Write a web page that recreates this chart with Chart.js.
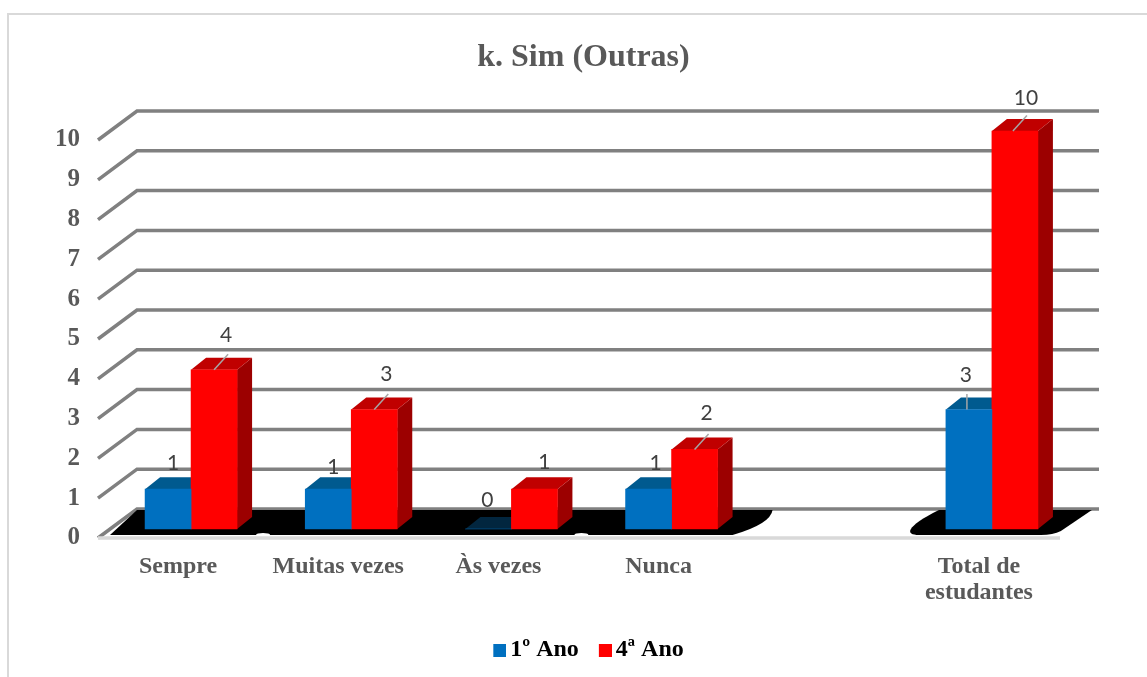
<!DOCTYPE html>
<html lang="pt">
<head>
<meta charset="utf-8">
<title>k. Sim (Outras)</title>
<script src="https://cdn.jsdelivr.net/npm/chart.js@4/dist/chart.umd.min.js"></script>
<style>
html,body{margin:0;padding:0;background:#fff;overflow:hidden}
#wrap{position:relative;width:1147px;height:677px}
canvas{display:block}
</style>
</head>
<body>
<div id="wrap"><canvas id="c" width="1147" height="677"></canvas></div>
<script>
const categories = ["Sempre", "Muitas vezes", "Às vezes", "Nunca", "", ["Total de", "estudantes"]];
const firstYear = [1, 1, 0, 1, null, 3];
const fourthYear = [4, 3, 1, 2, null, 10];
const seriesNames = ["1º Ano", "4ª Ano"];
const yMax = 10;

const SERIF = '"Liberation Serif", "Times New Roman", serif';
const GREY = '#595959';
const BAR = {dx: 13, dy: -9};       // bars stand inside the floor
const DEPTH = {dx: 15, dy: -12};    // bar depth
const WALL = {dx: 39, dy: -29};     // box depth
const faces = [
  {front: '#0070C0', top: '#005A8F', side: '#00466F', flat: '#02263F'},
  {front: '#FF0000', top: '#C00000', side: '#9C0000', flat: '#C00000'}
];
// label and leader placement relative to the bar's top front centre: [labelDx, labelDy, leaderStartDx or null]
const labelPlace = [
  [[5,-26,null],[5,-22,null],[-1,-29,null],[7,-26,null],null,[-3,-34,-2]],
  [[12,-35,0],[12,-35,0],[10,-27,null],[12,-36,0],null,[11,-33,-2]]
];

function swatch(color) {
  // legend key: a 13px square with the narrow gap before its text
  const c = document.createElement('canvas');
  c.width = 17; c.height = 13;
  const g = c.getContext('2d');
  g.fillStyle = color;
  g.fillRect(4, 0, 13, 13);
  return c;
}

const box3d = {
  id: 'box3d',
  afterLayout(chart) {
    // the title and legend sit over the whole picture, not over the plot
    chart.titleBlock.left += 54; chart.titleBlock.right += 54;
    chart.legend.left += 61; chart.legend.right += 61;
    chart.legend.top -= 8; chart.legend.bottom -= 8;
  },
  beforeDatasetsDraw(chart) {
    const {ctx, scales: {x, y}} = chart;
    const bx = y.getPixelForValue(0);
    const left = x.left, right = x.right;
    ctx.save();
    // frame
    ctx.fillStyle = '#D9D9D9';
    ctx.fillRect(7, 13, 2, 664);
    ctx.fillRect(7, 13, 1140, 2);
    // walls
    ctx.strokeStyle = '#808080';
    ctx.lineWidth = 3.5;
    ctx.lineCap = 'butt';
    y.ticks.forEach(t => {
      const py = y.getPixelForValue(t.value);
      ctx.beginPath();
      ctx.moveTo(left, py);
      ctx.lineTo(left + WALL.dx, py + WALL.dy);
      ctx.lineTo(right + WALL.dx + 1, py + WALL.dy);
      ctx.stroke();
    });
    // black floor, in two patches
    const fy0 = bx + WALL.dy + 1, fy1 = bx - 3;
    const c3 = x.getPixelForValue(3), c5 = x.getPixelForValue(5);
    ctx.fillStyle = '#000';
    ctx.beginPath();
    ctx.moveTo(left + 12, fy1);
    ctx.lineTo(left + WALL.dx, fy0);
    ctx.lineTo(c3 + 114, fy0);
    ctx.quadraticCurveTo(c3 + 112, fy0 + 14, c3 + 74, fy1);
    ctx.closePath();
    ctx.fill();
    ctx.beginPath();
    ctx.moveTo(c5 - 40, fy0);
    ctx.lineTo(c5 + 113, fy0);
    ctx.lineTo(c5 + 82, fy1 - 4);
    ctx.quadraticCurveTo(c5 + 74, fy1, c5 + 62, fy1);
    ctx.lineTo(c5 - 60, fy1);
    ctx.bezierCurveTo(c5 - 74, fy1, c5 - 74, fy1 - 8, c5 - 40, fy0);
    ctx.closePath();
    ctx.fill();
    // front floor edge
    ctx.strokeStyle = '#D9D9D9';
    ctx.beginPath();
    ctx.moveTo(left, bx);
    ctx.lineTo(right + 1, bx);
    ctx.stroke();
    // small gaps in the black floor
    ctx.fillStyle = '#fff';
    [x.getPixelForValue(0) + 85, x.getPixelForValue(2) + 83].forEach(gx => {
      ctx.beginPath();
      ctx.ellipse(gx, fy1 - 0.5, 7, 1.5, 0, 0, Math.PI * 2);
      ctx.fill();
    });
    // bar sides and tops
    chart.data.datasets.forEach((ds, di) => {
      chart.getDatasetMeta(di).data.forEach((el, i) => {
        if (ds.data[i] === null) return;
        const l = el.x - el.width / 2 + BAR.dx, r = el.x + el.width / 2 + BAR.dx;
        const t = el.y + BAR.dy, b = el.base + BAR.dy;
        const f = faces[di];
        if (ds.data[i] > 0) {
          ctx.fillStyle = f.side;
          ctx.beginPath();
          ctx.moveTo(r, t); ctx.lineTo(r + DEPTH.dx, t + DEPTH.dy);
          ctx.lineTo(r + DEPTH.dx, b + DEPTH.dy); ctx.lineTo(r, b);
          ctx.closePath(); ctx.fill();
        }
        ctx.fillStyle = ds.data[i] > 0 ? f.top : f.flat;
        ctx.beginPath();
        ctx.moveTo(l, t); ctx.lineTo(l + DEPTH.dx, t + DEPTH.dy);
        ctx.lineTo(r + DEPTH.dx, t + DEPTH.dy); ctx.lineTo(r, t);
        ctx.closePath(); ctx.fill();
      });
    });
    ctx.restore();
    ctx.save();
    ctx.translate(BAR.dx, BAR.dy);
  },
  afterDatasetsDraw(chart) {
    const {ctx} = chart;
    ctx.restore();
    ctx.save();
    ctx.font = '21px Lato, sans-serif';
    ctx.fillStyle = '#404040';
    ctx.textAlign = 'center';
    ctx.textBaseline = 'middle';
    chart.data.datasets.forEach((ds, di) => {
      chart.getDatasetMeta(di).data.forEach((el, i) => {
        const place = labelPlace[di][i];
        if (ds.data[i] === null || !place) return;
        const cx = el.x + BAR.dx, top = el.y + BAR.dy;
        if (place[2] !== null) {
          ctx.strokeStyle = '#A6A6A6';
          ctx.lineWidth = 1.5;
          ctx.beginPath();
          ctx.moveTo(cx + place[2], top);
          ctx.lineTo(cx + place[2] + (di === 0 ? 0 : 14), top - 15.5);
          ctx.stroke();
        }
        ctx.fillText(String(ds.data[i]), cx + place[0], top + place[1]);
      });
    });
    ctx.restore();
  }
};

new Chart(document.getElementById('c'), {
  type: 'bar',
  plugins: [box3d],
  data: {
    labels: categories,
    datasets: [
      {label: seriesNames[0], data: firstYear, backgroundColor: faces[0].front, clip: false, barThickness: 46},
      {label: seriesNames[1], data: fourthYear, backgroundColor: faces[1].front, clip: false, barThickness: 46}
    ]
  },
  options: {
    responsive: false,
    animation: false,
    layout: {padding: {left: 0, right: 88, top: 0, bottom: -3}},
    plugins: {
      tooltip: {enabled: false},
      title: {
        display: true,
        text: 'k. Sim (Outras)',
        color: GREY,
        font: {family: SERIF, size: 32, weight: 'bold', lineHeight: 1.2},
        padding: {top: 39, bottom: 62.6}
      },
      legend: {
        display: true,
        position: 'bottom',
        labels: {
          color: GREY,
          font: {family: SERIF, size: 24, weight: 'bold'},
          usePointStyle: true,
          boxWidth: 1,
          boxHeight: 1,
          padding: 24,
          generateLabels(chart) {
            return chart.data.datasets.map((ds, i) => ({
              text: ds.label,
              fillStyle: ds.backgroundColor,
              strokeStyle: ds.backgroundColor,
              lineWidth: 0,
              pointStyle: swatch(ds.backgroundColor),
              datasetIndex: i
            }));
          }
        }
      }
    },
    scales: {
      x: {
        offset: true,
        grid: {display: false, drawTicks: false},
        border: {display: false},
        ticks: {
          autoSkip: false, maxRotation: 0, minRotation: 0, padding: 16, color: GREY,
          font: {family: SERIF, size: 24, weight: 'bold', lineHeight: 1.08}
        },
        afterFit(s) { s.height = 84; }
      },
      y: {
        min: 0, max: yMax,
        grid: {display: false, drawTicks: false},
        border: {display: false},
        ticks: {
          stepSize: 1, padding: 18, color: GREY,
          font: {family: SERIF, size: 25, weight: 'bold'}
        },
        afterFit(s) { s.width = 98; }
      }
    }
  }
});
</script>
</body>
</html>
